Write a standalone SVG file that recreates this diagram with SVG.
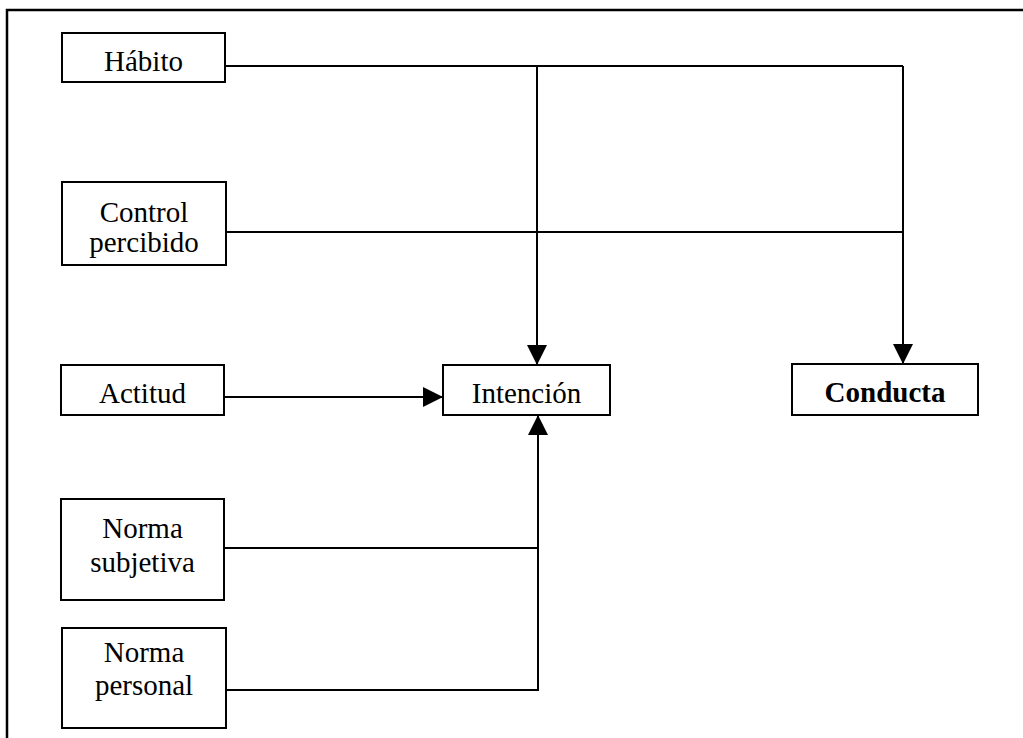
<svg xmlns="http://www.w3.org/2000/svg" width="1023" height="738" viewBox="0 0 1023 738">
  <style>
    .box { fill: #ffffff; stroke: #000000; stroke-width: 2; }
    .lbl { font-family: "Liberation Serif", "Times New Roman", serif; font-size: 29px; fill: #000000; text-anchor: middle; }
    .bold { font-weight: bold; }
    .wire { fill: none; stroke: #000000; stroke-width: 2; }
    .frame { fill: none; stroke: #000000; stroke-width: 2.5; }
  </style>
  <defs>
    <marker id="arrow" markerUnits="userSpaceOnUse" markerWidth="20" markerHeight="20" viewBox="0 0 20 20" refX="20" refY="10" orient="auto">
      <path d="M0,0 L20,10 L0,20 Z" fill="#000000"/>
    </marker>
  </defs>

  <rect width="1023" height="738" fill="#ffffff"/>

  <!-- outer frame: top and left edges -->
  <path class="frame" d="M7,738 V10 H1023"/>

  <!-- connectors -->
  <g id="connectors">
    <!-- Hábito -> Intención / Conducta -->
    <path class="wire" d="M225,66 H903"/>
    <path class="wire" d="M537,66 V365" marker-end="url(#arrow)"/>
    <path class="wire" d="M903,66 V364" marker-end="url(#arrow)"/>
    <!-- Control percibido -->
    <path class="wire" d="M226,232 H903"/>
    <!-- Actitud -> Intención -->
    <path class="wire" d="M224,397 H443" marker-end="url(#arrow)"/>
    <!-- Normas -> Intención (from below) -->
    <path class="wire" d="M224,548 H538"/>
    <path class="wire" d="M226,690 H538 V415" marker-end="url(#arrow)"/>
  </g>

  <g id="habito">
    <rect class="box" x="62" y="33" width="163" height="49"/>
    <text class="lbl" x="143.5" y="71">Hábito</text>
  </g>

  <g id="control">
    <rect class="box" x="62" y="182" width="164" height="83"/>
    <text class="lbl" x="144" y="222">Control</text>
    <text class="lbl" x="144" y="252">percibido</text>
  </g>

  <g id="actitud">
    <rect class="box" x="61" y="365" width="163" height="50"/>
    <text class="lbl" x="142.5" y="403">Actitud</text>
  </g>

  <g id="norma-subjetiva">
    <rect class="box" x="61" y="499" width="163" height="101"/>
    <text class="lbl" x="142.5" y="538">Norma</text>
    <text class="lbl" x="142.5" y="572">subjetiva</text>
  </g>

  <g id="norma-personal">
    <rect class="box" x="62" y="628" width="164" height="100"/>
    <text class="lbl" x="144" y="662">Norma</text>
    <text class="lbl" x="144" y="695">personal</text>
  </g>

  <g id="intencion">
    <rect class="box" x="443" y="365" width="167" height="50"/>
    <text class="lbl" x="526.5" y="403">Intención</text>
  </g>

  <g id="conducta">
    <rect class="box" x="792" y="364" width="186" height="51"/>
    <text class="lbl bold" x="885" y="402">Conducta</text>
  </g>
</svg>
